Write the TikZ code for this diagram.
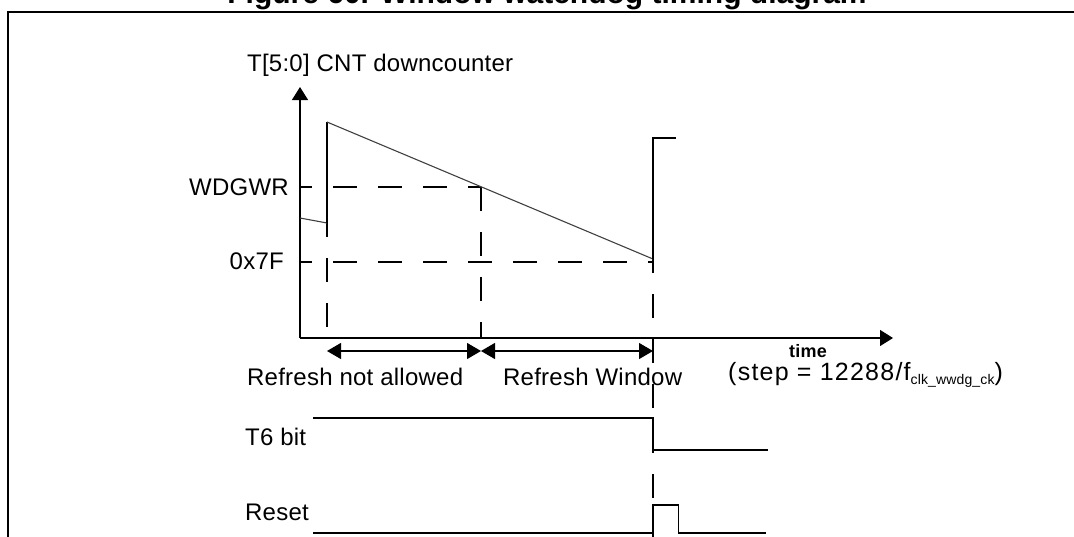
\documentclass[tikz,border=0pt]{standalone}
\usepackage{fontspec}
\setmainfont{Liberation Sans}
\newfontfamily\lblfont{Liberation Sans}[LetterSpace=1]
\newfontfamily\widefont{Liberation Sans}[LetterSpace=5]
\usetikzlibrary{arrows.meta}
\begin{document}
\begin{tikzpicture}[x=1pt,y=-1pt,
  lbl/.style={inner sep=0pt, font=\lblfont\fontsize{24}{28}\selectfont},
  sig/.style={line width=1.1pt, black},
  ramp/.style={line width=1.1pt, black!75},
  dsh/.style={line width=1.1pt, dash pattern=on 24pt off 21pt},
  axisarrow/.style={line width=1.1pt, -{Triangle[length=13pt,width=16pt]}},
  spanarrow/.style={line width=1.1pt, {Triangle[length=14pt,width=16pt]}-{Triangle[length=14pt,width=16pt]}},
  framestyle/.style={line width=2pt}
]
\useasboundingbox (0,0) rectangle (1074,536);
% frame and title
\coordinate (fbl) at (7.5,545);
\coordinate (ftl) at (7.5,12);
\coordinate (ftr) at (1080,12);
\draw[framestyle] (fbl) -- (ftl) -- (ftr);
\node[anchor=base, inner sep=0pt, font=\bfseries\fontsize{30}{34}\selectfont] (title) at (547,3) {Figure 60. Window watchdog timing diagram};
% key points
\coordinate (O) at (300,338);
\coordinate (Ytop) at (300,87);
\coordinate (Xend) at (893,338);
\coordinate (wl) at (300,187);
\coordinate (fl) at (300,262);
\coordinate (old) at (300,218);
\coordinate (r1b) at (327,223);
\coordinate (r1t) at (327,122);
\coordinate (x1a) at (327,338);
\coordinate (cross) at (481,187);
\coordinate (x2a) at (481,338);
\coordinate (f3) at (653,262);
\coordinate (r2b) at (653,259);
\coordinate (r2t) at (653,138);
\coordinate (r2e) at (676,138);
\coordinate (x3e) at (653,545);
\coordinate (a1) at (327,351);
\coordinate (a2) at (481,351);
\coordinate (a3) at (653,351);
% dashed guides
\draw[dsh, dash phase=12pt] (wl) -- (cross);
\draw[dsh, dash phase=12pt] (fl) -- (f3);
\draw[dsh, dash phase=10pt] (r1b) -- (x1a);
\draw[dsh, dash phase=0pt] (cross) -- (x2a);
\draw[dsh, dash phase=10pt] (r2b) -- (x3e);
% axes
\draw[axisarrow] (O) -- (Ytop);
\draw[axisarrow] (O) -- (Xend);
% counter
\draw[ramp] (old) -- (r1b);
\draw[sig] (r1b) -- (r1t);
\draw[ramp] (r1t) -- (r2b);
\draw[sig] (r2b) -- (r2t) -- (r2e);
% spans
\draw[spanarrow] (a1) -- (a2);
\draw[spanarrow] (a2) -- (a3);
% T6 bit
\coordinate (t6s) at (313,418);
\coordinate (t6h) at (653,418);
\coordinate (t6l) at (653,450);
\coordinate (t6e) at (768,450);
\draw[sig] (t6s) -- (t6h) -- (t6l) -- (t6e);
% Reset
\coordinate (rss) at (313,533);
\coordinate (rs1) at (653,533);
\coordinate (rs2) at (653,505);
\coordinate (rs3) at (678.5,505);
\coordinate (rs4) at (678.5,533);
\coordinate (rse) at (766,533);
\draw[sig] (rss) -- (rs1) -- (rs2) -- (rs3) -- (rs4) -- (rse);
% labels
\node[lbl, anchor=base west] (ylab) at (247,71) {T[5:0] CNT downcounter};
\node[lbl, anchor=base east] (wlab) at (289,195) {WDGWR};
\node[lbl, anchor=base east] (flab) at (284,269) {0x7F};
\node[lbl, anchor=base west] (na) at (247,385) {Refresh not allowed};
\node[lbl, anchor=base west] (rw) at (503,385) {Refresh Window};
\node[anchor=base, inner sep=0pt, font=\lblfont\bfseries\fontsize{18}{21}\selectfont] (time) at (808,357) {time};
\node[anchor=base west, inner sep=0pt, font=\widefont\fontsize{25}{29}\selectfont] (step) at (728,380) {(step = 12288/f{\lblfont\fontsize{14}{16}\selectfont\raisebox{-4pt}{clk\_wwdg\_ck}})};
\node[lbl, anchor=base west] (t6) at (245,445) {T6 bit};
\node[lbl, anchor=base west] (rst) at (245,520) {Reset};
\end{tikzpicture}
\end{document}
